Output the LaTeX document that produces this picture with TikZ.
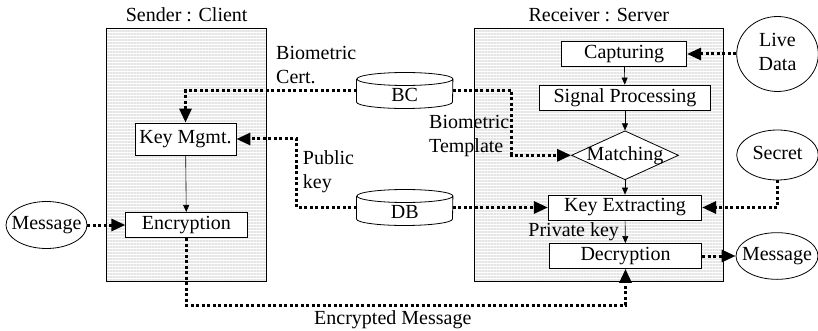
\documentclass[tikz,border=0pt]{standalone}
\usepackage{fontspec}
\setmainfont{Liberation Serif}
\usetikzlibrary{arrows.meta,positioning,shapes.geometric,patterns.meta}

% text that does not widen the ellipse round it
\newcommand\tight[1]{\makebox[0pt]{\begin{tabular}{@{}c@{}}#1\end{tabular}}}

\begin{document}
\begin{tikzpicture}[x=1pt, y=-1pt, font=\fontsize{20pt}{24pt}\selectfont,
		side/.style={draw, line width=0.9pt, pattern={Lines[angle=0,distance=3pt,line width=1.1pt]}, pattern color=gray!20},
		box/.style={draw, line width=0.8pt, fill=white, inner sep=0pt},
		blob/.style={draw, ellipse, line width=0.8pt, inner sep=0pt},
		store/.style={inner sep=0pt, minimum width=96pt, minimum height=35.6pt, text height=22pt, text depth=0pt},
		flow/.style={-{Triangle[length=7pt,width=6pt]}, line width=0.6pt},
		dotflow/.style={-{Triangle[length=14pt,width=12pt]}, line width=3pt, dash pattern=on 3pt off 2.5pt},
		note/.style={align=left, inner sep=0pt}]
		\useasboundingbox (0,0) rectangle (818,331);

		% the two sides
		\node [side, minimum width=160pt, minimum height=253.4pt] (sender) at (186.7,155) {};
		\node [above=3pt of sender, inner sep=3pt] (sendlbl) {Sender : Client};
		\node [side, minimum width=249pt, minimum height=253.4pt] (receiver) at (598.8,155) {};
		\node [above=3pt of receiver, inner sep=3pt] (recvlbl) {Receiver : Server};

		% sender steps
		\node [box, minimum width=101pt, minimum height=32pt] (keymgmt) at (185.5,139) {Key Mgmt.};
		\node [box, minimum width=121.3pt, minimum height=25.3pt] (encrypt) at (186.4,225) {Encryption};
		\draw [flow] (keymgmt) -- (encrypt);

		% receiver steps
		\node [box, minimum width=125pt, minimum height=24.3pt] (capture) at (624.2,54) {Capturing};
		\node [box, minimum width=171.4pt, minimum height=25pt] (sigproc) at (625,97.5) {Signal Processing};
		\node [draw, diamond, fill=white, line width=0.8pt, inner sep=0pt, minimum width=107pt, minimum height=49pt] (match) at (625,155.3) {};
		\node (matchtxt) at (match) {Matching};
		\node [box, minimum width=153.4pt, minimum height=25pt] (keyext) at (625,207.5) {Key Extracting};
		\node [box, minimum width=152.4pt, minimum height=25pt] (decrypt) at (625.5,256) {Decryption};
		\draw [flow] (capture) -- (sigproc);
		\draw [flow] (sigproc) -- (match);
		\draw [flow] (match) -- (keyext);
		\draw [flow] (keyext) -- node [left, inner sep=6pt] (privlbl) {Private key} (decrypt);

		% outside sources and sinks
		\node [blob, minimum width=81pt, minimum height=47pt] (msgl) at (46.5,225) {\tight{Message}};
		\node [blob, minimum width=81.6pt, minimum height=75pt] (live) at (777.5,54) {\tight{Live\\Data}};
		\node [blob, minimum width=81.6pt, minimum height=50pt] (secret) at (777.5,155) {\tight{Secret}};
		\node [blob, minimum width=82pt, minimum height=46.7pt] (msgr) at (777,256) {\tight{Message}};

		% stores between the sides
		\node [store] (bc) at (404.7,90.5) {BC};
		\node [store] (db) at (404.7,207.5) {DB};
		\foreach \c in {bc,db}
			\draw [line width=0.8pt] ([yshift=-6.5pt]\c.north west) -- ([yshift=6.5pt]\c.south west)
				arc [start angle=180, end angle=360, x radius=48pt, y radius=6.5pt]
				-- ([yshift=-6.5pt]\c.north east)
				arc [start angle=0, end angle=360, x radius=48pt, y radius=6.5pt];

		% dotted transfers
		\draw [dotflow] (bc.west) -| (keymgmt.north);
		\draw [dotflow] (bc.east) -- ++(59,0) |- (match.west);
		\draw [dotflow] (db.west) -- ++(-60,0) |- (keymgmt.east);
		\draw [dotflow] (db.east) -- (keyext.west);
		\draw [dotflow] (msgl.east) -- (encrypt.west);
		\draw [dotflow] (live.west) -- (capture.east);
		\draw [dotflow] (secret.south) |- (keyext.east);
		\draw [dotflow] (decrypt.east) -- (msgr.west);
		\coordinate (bend) at (186.4,305);
		\draw [dotflow] (encrypt.south) -- (bend) -| node [pos=0.235, below, inner sep=4pt] (enclbl) {Encrypted Message} (decrypt.south);

		% labels of the transfers
		\node [note, anchor=west] (certlbl) at (276,65.5) {Biometric\\Cert.};
		\node [note, anchor=west] (tmpllbl) at (429,136.5) {Biometric\\Template};
		\node [note, anchor=west] (publbl) at (302.7,172) {Public\\key};
	\end{tikzpicture}
\end{document}
